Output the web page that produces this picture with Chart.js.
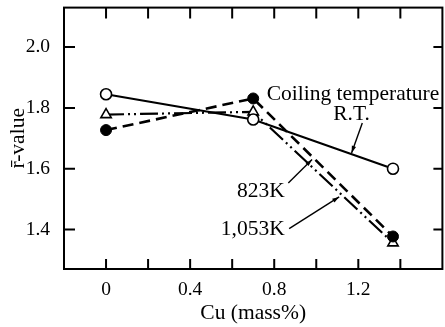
<!DOCTYPE html>
<html>
<head>
<meta charset="utf-8">
<script src="https://cdn.jsdelivr.net/npm/chart.js@4.4.1/dist/chart.umd.min.js"></script>
<style>
html, body { margin: 0; padding: 0; background: #fff; overflow: hidden; }
#wrap { width: 450px; height: 327px; }
</style>
</head>
<body>
<div id="wrap"><canvas id="chart" width="450" height="327"></canvas></div>
<script>
// values
const cuValues = [0, 0.7, 1.365];
const rtValues = [1.845, 1.762, 1.600];
const k823Values = [1.727, 1.831, 1.377];
const k1053Values = [1.778, 1.787, 1.356];
const xTickLabels = ['0', '0.4', '0.8', '1.2'];
const yTickLabels = ['1.4', '1.6', '1.8', '2.0'];

// annotation texts, placed in data units
const notes = [
    { text: 'Coiling temperature', x: 0.764, y: 1.825, align: 'left' },
    { text: 'R.T.', x: 1.168, y: 1.760, align: 'center' },
    { text: '823K', x: 0.85, y: 1.507, align: 'right' },
    { text: '1,053K', x: 0.85, y: 1.381, align: 'right' }
];
const arrows = [
    { from: [1.219, 1.750], to: [1.168, 1.652] },
    { from: [0.867, 1.553], to: [0.980, 1.630] },
    { from: [0.871, 1.403], to: [1.109, 1.507] }
];

const serif = '"Liberation Serif", "Times New Roman", serif';

function fmt(v) {
    return Math.abs(v) < 1e-9 ? '0' : v.toFixed(1);
}

const framePlugin = {
    id: 'frame',
    afterDraw(chart) {
        const ctx = chart.ctx;
        const a = chart.chartArea;
        const xs = chart.scales.x, ys = chart.scales.y;
        ctx.save();
        ctx.strokeStyle = '#000';
        ctx.lineWidth = 2;
        ctx.strokeRect(a.left, a.top, a.right - a.left, a.bottom - a.top);

        // inward tick marks
        ctx.beginPath();
        xs.ticks.forEach(t => {
            if (t.value <= xs.min + 1e-6 || t.value >= xs.max - 1e-6) return;
            const px = xs.getPixelForValue(t.value);
            ctx.moveTo(px, a.bottom); ctx.lineTo(px, a.bottom - 10);
            ctx.moveTo(px, a.top); ctx.lineTo(px, a.top + 11);
        });
        ys.ticks.forEach(t => {
            if (!yTickLabels.includes(fmt(t.value))) return;
            const py = ys.getPixelForValue(t.value);
            ctx.moveTo(a.left, py); ctx.lineTo(a.left + 11, py);
            ctx.moveTo(a.right, py); ctx.lineTo(a.right - 9, py);
        });
        ctx.stroke();

        // annotation texts
        ctx.fillStyle = '#000';
        ctx.font = '21.5px ' + serif;
        ctx.textBaseline = 'alphabetic';
        notes.forEach(n => {
            ctx.textAlign = n.align;
            ctx.fillText(n.text, xs.getPixelForValue(n.x), ys.getPixelForValue(n.y));
        });

        // arrows
        ctx.lineWidth = 1.4;
        arrows.forEach(ar => {
            const x1 = xs.getPixelForValue(ar.from[0]), y1 = ys.getPixelForValue(ar.from[1]);
            const x2 = xs.getPixelForValue(ar.to[0]), y2 = ys.getPixelForValue(ar.to[1]);
            const ang = Math.atan2(y2 - y1, x2 - x1);
            ctx.beginPath();
            ctx.moveTo(x1, y1); ctx.lineTo(x2, y2);
            ctx.stroke();
            ctx.beginPath();
            ctx.moveTo(x2, y2);
            ctx.lineTo(x2 - 7 * Math.cos(ang) + 2.2 * Math.sin(ang), y2 - 7 * Math.sin(ang) - 2.2 * Math.cos(ang));
            ctx.lineTo(x2 - 7 * Math.cos(ang) - 2.2 * Math.sin(ang), y2 - 7 * Math.sin(ang) + 2.2 * Math.cos(ang));
            ctx.closePath();
            ctx.fill();
        });
        ctx.restore();
    }
};

const toPoints = vals => vals.map((v, i) => ({ x: cuValues[i], y: v }));

const ctx = document.getElementById('chart').getContext('2d');
const chart = new Chart(ctx, {
    type: 'line',
    data: {
        datasets: [
            {
                label: 'R.T.',
                data: toPoints(rtValues),
                borderColor: '#000',
                borderWidth: 2.2,
                pointStyle: 'circle',
                pointRadius: 5.5,
                pointBackgroundColor: '#fff',
                pointBorderColor: '#000',
                pointBorderWidth: 1.6
            },
            {
                label: '823K',
                data: toPoints(k823Values),
                borderColor: '#000',
                borderWidth: 2.6,
                borderDash: [11, 6],
                pointStyle: 'circle',
                pointRadius: 5.5,
                pointBackgroundColor: '#000',
                pointBorderColor: '#000',
                pointBorderWidth: 1
            },
            {
                label: '1,053K',
                data: toPoints(k1053Values),
                borderColor: '#000',
                borderWidth: 2.2,
                borderDash: [18, 4, 2, 4, 2, 4],
                pointStyle: 'triangle',
                pointRadius: 6,
                pointBackgroundColor: '#fff',
                pointBorderColor: '#000',
                pointBorderWidth: 1.6
            }
        ]
    },
    options: {
        responsive: false,
        animation: false,
        events: [],
        layout: { padding: { top: 6, right: 3, left: 0, bottom: 0 } },
        plugins: { legend: { display: false }, tooltip: { enabled: false } },
        scales: {
            x: {
                type: 'linear',
                min: -0.2,
                max: 1.6,
                grid: { display: false },
                border: { display: false },
                ticks: {
                    stepSize: 0.2,
                    autoSkip: false,
                    maxRotation: 0,
                    padding: 1,
                    color: '#000',
                    font: { family: serif, size: 19.5 },
                    callback: v => xTickLabels.includes(fmt(v)) ? fmt(v) : ''
                },
                title: {
                    display: true,
                    text: 'Cu (mass%)',
                    color: '#000',
                    font: { family: serif, size: 21.5 },
                    padding: { top: 1, bottom: 1 }
                },
                afterFit: s => { s.height = 58; s.paddingLeft = 0; s.paddingRight = 0; }
            },
            y: {
                type: 'linear',
                min: 1.27,
                max: 2.13,
                grid: { display: false },
                border: { display: false },
                ticks: {
                    stepSize: 0.2,
                    autoSkip: false,
                    padding: 6,
                    color: '#000',
                    font: { family: serif, size: 19.5 },
                    callback: v => yTickLabels.includes(fmt(v)) ? fmt(v) : ''
                },
                title: {
                    display: true,
                    text: 'r\u0304-value',
                    color: '#000',
                    font: { family: serif, size: 21.5 },
                    padding: { top: 5, bottom: 0 }
                },
                afterFit: s => { s.width = 64; s.paddingTop = 0; s.paddingBottom = 0; }
            }
        }
    },
    plugins: [framePlugin]
});
</script>
</body>
</html>
